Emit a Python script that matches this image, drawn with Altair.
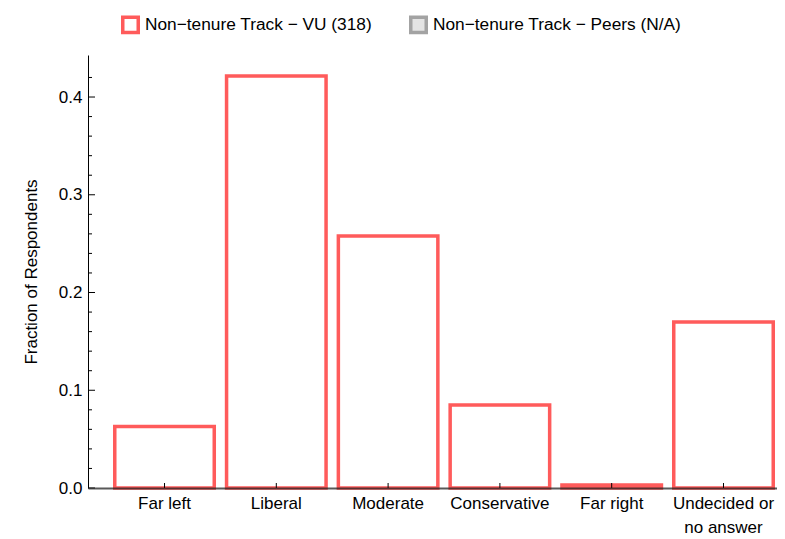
import altair as alt
import pandas as pd

categories = ["Far left", "Liberal", "Moderate", "Conservative", "Far right", "Undecided or no answer"]
fractions = [0.0629, 0.4214, 0.2579, 0.0849, 0.0031, 0.1698]
series_names = ["Non\u2212tenure Track \u2212 VU (318)", "Non\u2212tenure Track \u2212 Peers (N/A)"]
stroke_colors = ["#ff5b5b", "#a3a3a3"]
fill_colors = ["#ffffff", "#e4e4e4"]
y_major = [0.0, 0.1, 0.2, 0.3, 0.4]
y_minor = [0.02, 0.04, 0.06, 0.08, 0.12, 0.14, 0.16, 0.18, 0.22, 0.24, 0.26, 0.28,
           0.32, 0.34, 0.36, 0.38, 0.42]

W = 689
H = 433
FONT = "Liberation Sans"
FS = 17

df = pd.DataFrame({"category": categories, "fraction": fractions, "series": series_names[0]})
df_major = pd.DataFrame({"v": y_major})
df_minor = pd.DataFrame({"v": y_minor})
df_cat = pd.DataFrame({"category": categories})

x_scale = alt.Scale(domain=categories, paddingInner=0.11, paddingOuter=0.1365, align=0.877)
y_scale = alt.Scale(domain=[0, 0.443], nice=False, zero=True)

legend = alt.Legend(
    title=None, orient="none", direction="horizontal", legendX=33, legendY=-40,
    symbolType="square", symbolSize=240, symbolStrokeWidth=3.5, symbolOpacity=1,
    labelFontSize=17.3, labelFont=FONT, labelColor="#000", labelOffset=5, labelLimit=500,
    columnPadding=30, padding=0,
)

bars = alt.Chart(df).mark_bar(strokeWidth=3.5, opacity=1).encode(
    x=alt.X("category:N", sort=categories, scale=x_scale,
            axis=alt.Axis(title=None, ticks=False, labelAngle=0, labelFontSize=FS, labelFont=FONT,
                          labelColor="#000", labelPadding=7, labelLineHeight=24,
                          labelExpr="datum.value == 'Undecided or no answer' ? ['Undecided or', 'no answer'] : datum.label",
                          domainColor="#222", domainOpacity=0.75, domainWidth=2, zindex=2)),
    y=alt.Y("fraction:Q", scale=y_scale,
            axis=alt.Axis(title="Fraction of Respondents", values=y_major, format=".1f", ticks=False,
                          labelFontSize=FS, labelFont=FONT, labelColor="#000", labelPadding=6,
                          titleFontSize=FS, titleFont=FONT, titleFontWeight="normal", titleColor="#000",
                          titlePadding=18, domainColor="#000", domainWidth=1, grid=False)),
    stroke=alt.Stroke("series:N", scale=alt.Scale(domain=series_names, range=stroke_colors), legend=legend),
    fill=alt.Fill("series:N", scale=alt.Scale(domain=series_names, range=fill_colors), legend=legend),
)

major_ticks = alt.Chart(df_major).mark_rule(color="#000", strokeWidth=1).encode(
    y=alt.Y("v:Q", scale=y_scale), x=alt.value(0), x2=alt.value(7)
)
minor_ticks = alt.Chart(df_minor).mark_rule(color="#000", strokeWidth=1).encode(
    y=alt.Y("v:Q", scale=y_scale), x=alt.value(0), x2=alt.value(4)
)
x_ticks = alt.Chart(df_cat).mark_rule(color="#000", strokeWidth=1).encode(
    x=alt.X("category:N", sort=categories, scale=x_scale), y=alt.value(H), y2=alt.value(H - 5)
)

chart = alt.layer(bars, major_ticks, minor_ticks, x_ticks).properties(
    width=W, height=H, autosize="none",
    padding={"left": 80, "top": 47, "right": 0, "bottom": 51},
).configure(font=FONT, background="white").configure_view(stroke=None)

chart.save("out.html", embed_options={"renderer": "svg", "actions": False})
